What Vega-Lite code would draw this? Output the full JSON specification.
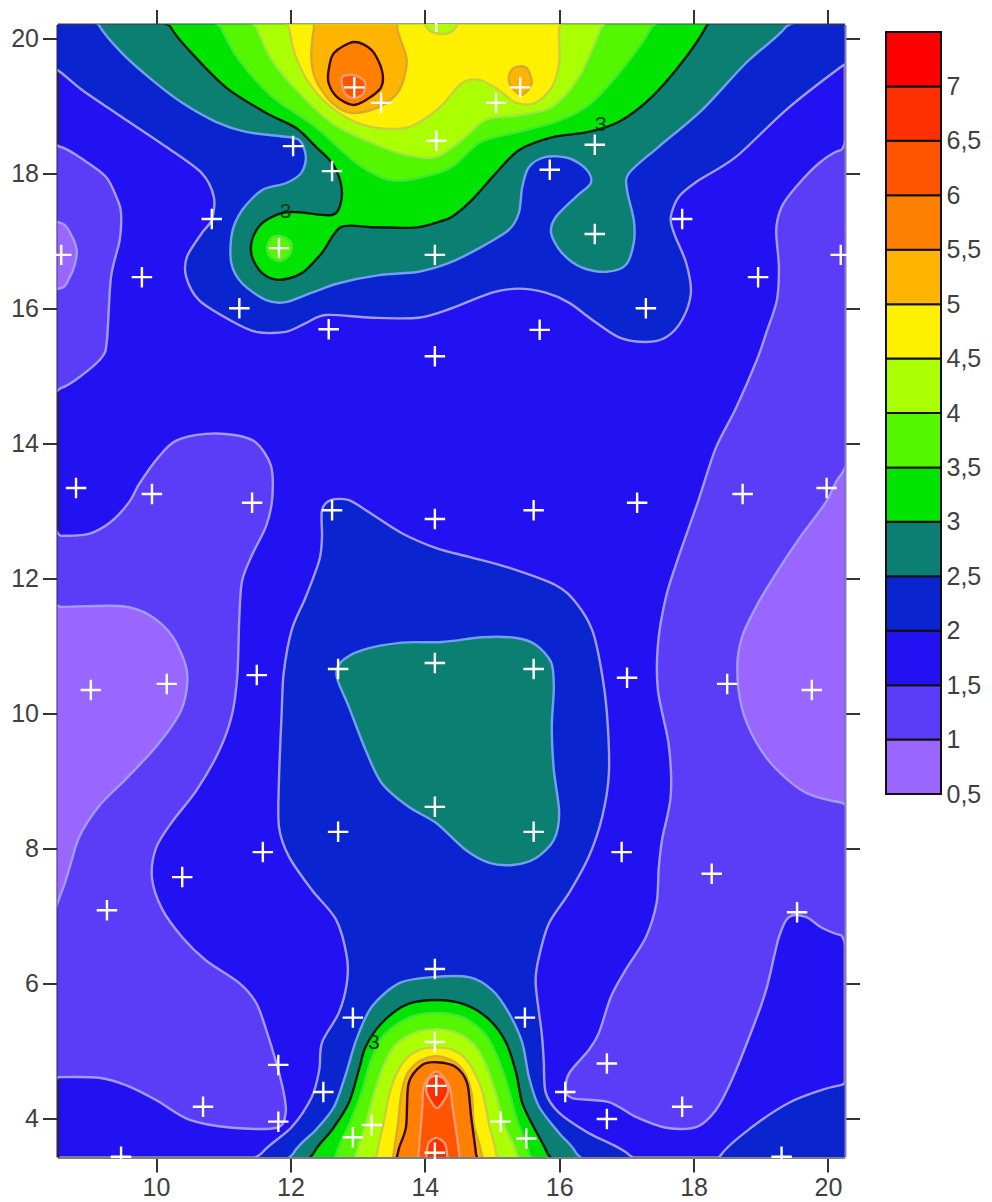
{"$schema":"https://vega.github.io/schema/vega-lite/v6.json","background":"white","padding":{"left":10.5,"top":6.5,"right":0,"bottom":0},"spacing":24.5,"config":{"axis":{"labelFont":"Liberation Sans","labelFontSize":25,"labelColor":"#404040","title":null,"grid":false}},
"datasets":{"shapes":[{"s":1,"band":"1","edge":"lo"},{"s":2,"band":"0.5","edge":"lo"},{"s":3,"band":"0.5","edge":"lo"},{"s":4,"band":"1","edge":"lo"},{"s":5,"band":"0.5","edge":"lo"},{"s":6,"band":"1","edge":"lo"},{"s":7,"band":"0.5","edge":"lo"},{"s":8,"band":"2","edge":"lo"},{"s":9,"band":"2.5","edge":"mid"},{"s":10,"band":"3","edge":"k"},{"s":11,"band":"3.5","edge":"g"},{"s":12,"band":"3.5","edge":"g"},{"s":13,"band":"4","edge":"lime"},{"s":14,"band":"4.5","edge":"ol"},{"s":15,"band":"4","edge":"ol"},{"s":16,"band":"5","edge":"am"},{"s":17,"band":"5","edge":"am"},{"s":18,"band":"5.5","edge":"dk"},{"s":19,"band":"6","edge":"pk"},{"s":20,"band":"2","edge":"lo"},{"s":21,"band":"2","edge":"lo"},{"s":22,"band":"2.5","edge":"mid"},{"s":23,"band":"2.5","edge":"mid"},{"s":24,"band":"3","edge":"k"},{"s":25,"band":"3.5","edge":"g"},{"s":26,"band":"4","edge":"lime"},{"s":27,"band":"4.5","edge":"ol"},{"s":28,"band":"5","edge":"am"},{"s":29,"band":"5.5","edge":"dk"},{"s":30,"band":"6","edge":"pk"},{"s":31,"band":"6.5","edge":"pk"},{"s":32,"band":"6.5","edge":"pk"}],
"contours":[
{"s":1,"x":8.11,"y":18.39},{"s":1,"x":8.57,"y":18.39},{"s":1,"x":8.93,"y":18.19},{"s":1,"x":9.26,"y":17.94},{"s":1,"x":9.43,"y":17.6},{"s":1,"x":9.48,"y":17.41},{"s":1,"x":9.46,"y":17.01},{"s":1,"x":9.33,"y":16.46},{"s":1,"x":9.27,"y":15.53},{"s":1,"x":9.2,"y":15.28},{"s":1,"x":8.9,"y":15.01},{"s":1,"x":8.59,"y":14.82},{"s":1,"x":8.11,"y":14.76},
{"s":2,"x":8.11,"y":17.26},{"s":2,"x":8.59,"y":17.26},{"s":2,"x":8.74,"y":17.08},{"s":2,"x":8.82,"y":16.86},{"s":2,"x":8.79,"y":16.64},{"s":2,"x":8.71,"y":16.45},{"s":2,"x":8.59,"y":16.3},{"s":2,"x":8.11,"y":16.3},
{"s":3,"x":20.68,"y":17.19},{"s":3,"x":20.21,"y":17.16},{"s":3,"x":20.04,"y":16.97},{"s":3,"x":19.98,"y":16.76},{"s":3,"x":20.01,"y":16.54},{"s":3,"x":20.07,"y":16.3},{"s":3,"x":20.21,"y":16},{"s":3,"x":20.68,"y":15.97},
{"s":4,"x":8.11,"y":12.63},{"s":4,"x":8.59,"y":12.63},{"s":4,"x":9,"y":12.66},{"s":4,"x":9.33,"y":12.84},{"s":4,"x":9.6,"y":13.13},{"s":4,"x":9.75,"y":13.4},{"s":4,"x":10.04,"y":13.8},{"s":4,"x":10.3,"y":14.04},{"s":4,"x":10.74,"y":14.14},{"s":4,"x":11.19,"y":14.12},{"s":4,"x":11.49,"y":14.01},{"s":4,"x":11.71,"y":13.67},{"s":4,"x":11.73,"y":13.19},{"s":4,"x":11.64,"y":12.78},{"s":4,"x":11.43,"y":12.35},{"s":4,"x":11.28,"y":11.96},{"s":4,"x":11.24,"y":11.43},{"s":4,"x":11.21,"y":10.56},{"s":4,"x":11.13,"y":9.98},{"s":4,"x":10.94,"y":9.45},{"s":4,"x":10.6,"y":8.86},{"s":4,"x":10.24,"y":8.4},{"s":4,"x":10,"y":8.01},{"s":4,"x":9.94,"y":7.57},{"s":4,"x":10.09,"y":7.11},{"s":4,"x":10.39,"y":6.69},{"s":4,"x":10.74,"y":6.35},{"s":4,"x":11.24,"y":6.01},{"s":4,"x":11.49,"y":5.72},{"s":4,"x":11.64,"y":5.32},{"s":4,"x":11.79,"y":4.83},{"s":4,"x":11.9,"y":4.39},{"s":4,"x":11.93,"y":4.09},{"s":4,"x":11.8,"y":3.87},{"s":4,"x":11.13,"y":3.87},{"s":4,"x":10.49,"y":3.99},{"s":4,"x":10,"y":4.28},{"s":4,"x":9.55,"y":4.5},{"s":4,"x":9.15,"y":4.61},{"s":4,"x":8.56,"y":4.62},{"s":4,"x":8.11,"y":4.62},
{"s":5,"x":8.11,"y":11.58},{"s":5,"x":8.59,"y":11.58},{"s":5,"x":9.49,"y":11.59},{"s":5,"x":9.9,"y":11.46},{"s":5,"x":10.24,"y":11.15},{"s":5,"x":10.45,"y":10.68},{"s":5,"x":10.45,"y":10.32},{"s":5,"x":10.34,"y":9.98},{"s":5,"x":10,"y":9.51},{"s":5,"x":9.55,"y":9.03},{"s":5,"x":9.15,"y":8.63},{"s":5,"x":8.85,"y":8.16},{"s":5,"x":8.59,"y":7.35},{"s":5,"x":8.11,"y":6.5},
{"s":6,"x":20.68,"y":18.34},{"s":6,"x":20.19,"y":18.34},{"s":6,"x":19.87,"y":18.15},{"s":6,"x":19.52,"y":17.79},{"s":6,"x":19.31,"y":17.5},{"s":6,"x":19.23,"y":17.16},{"s":6,"x":19.27,"y":16.61},{"s":6,"x":19.24,"y":16.12},{"s":6,"x":19.08,"y":15.63},{"s":6,"x":18.94,"y":15.23},{"s":6,"x":18.63,"y":14.52},{"s":6,"x":18.33,"y":13.93},{"s":6,"x":18.08,"y":13.18},{"s":6,"x":17.78,"y":12.33},{"s":6,"x":17.59,"y":11.73},{"s":6,"x":17.47,"y":11.03},{"s":6,"x":17.47,"y":10.34},{"s":6,"x":17.63,"y":9.54},{"s":6,"x":17.66,"y":8.78},{"s":6,"x":17.53,"y":8.13},{"s":6,"x":17.48,"y":7.69},{"s":6,"x":17.45,"y":7.2},{"s":6,"x":17.29,"y":6.69},{"s":6,"x":16.99,"y":6.21},{"s":6,"x":16.77,"y":5.81},{"s":6,"x":16.59,"y":5.27},{"s":6,"x":16.44,"y":5.02},{"s":6,"x":16.15,"y":4.68},{"s":6,"x":16.1,"y":4.46},{"s":6,"x":16.19,"y":4.31},{"s":6,"x":16.74,"y":4.25},{"s":6,"x":17.14,"y":4.03},{"s":6,"x":17.59,"y":3.87},{"s":6,"x":18.04,"y":3.88},{"s":6,"x":18.33,"y":4.13},{"s":6,"x":18.57,"y":4.58},{"s":6,"x":18.87,"y":5.32},{"s":6,"x":19.08,"y":5.91},{"s":6,"x":19.27,"y":6.69},{"s":6,"x":19.42,"y":6.99},{"s":6,"x":19.67,"y":6.99},{"s":6,"x":19.91,"y":6.83},{"s":6,"x":20.19,"y":6.72},{"s":6,"x":20.68,"y":6.65},
{"s":7,"x":20.68,"y":13.9},{"s":7,"x":20.19,"y":13.53},{"s":7,"x":19.97,"y":13.13},{"s":7,"x":19.57,"y":12.59},{"s":7,"x":19.23,"y":12.08},{"s":7,"x":18.93,"y":11.58},{"s":7,"x":18.72,"y":11.13},{"s":7,"x":18.65,"y":10.68},{"s":7,"x":18.72,"y":10.08},{"s":7,"x":18.93,"y":9.58},{"s":7,"x":19.23,"y":9.18},{"s":7,"x":19.67,"y":8.83},{"s":7,"x":20.21,"y":8.68},{"s":7,"x":20.68,"y":8.65},
{"s":8,"x":8.11,"y":19.82},{"s":8,"x":8.57,"y":19.5},{"s":8,"x":8.9,"y":19.23},{"s":8,"x":9.49,"y":18.83},{"s":8,"x":10.15,"y":18.39},{"s":8,"x":10.68,"y":18},{"s":8,"x":10.86,"y":17.65},{"s":8,"x":10.83,"y":17.31},{"s":8,"x":10.68,"y":17.11},{"s":8,"x":10.46,"y":16.76},{"s":8,"x":10.45,"y":16.46},{"s":8,"x":10.64,"y":16.12},{"s":8,"x":11.09,"y":15.83},{"s":8,"x":11.49,"y":15.65},{"s":8,"x":11.93,"y":15.65},{"s":8,"x":12.23,"y":15.78},{"s":8,"x":12.53,"y":15.9},{"s":8,"x":13.21,"y":15.86},{"s":8,"x":13.91,"y":15.86},{"s":8,"x":14.4,"y":16},{"s":8,"x":15,"y":16.23},{"s":8,"x":15.4,"y":16.29},{"s":8,"x":15.8,"y":16.23},{"s":8,"x":16.15,"y":16.08},{"s":8,"x":16.49,"y":15.83},{"s":8,"x":16.89,"y":15.57},{"s":8,"x":17.29,"y":15.5},{"s":8,"x":17.59,"y":15.57},{"s":8,"x":17.83,"y":15.83},{"s":8,"x":17.96,"y":16.23},{"s":8,"x":17.89,"y":16.67},{"s":8,"x":17.71,"y":17.11},{"s":8,"x":17.66,"y":17.35},{"s":8,"x":17.78,"y":17.65},{"s":8,"x":18.04,"y":17.87},{"s":8,"x":18.63,"y":18.24},{"s":8,"x":19.37,"y":18.93},{"s":8,"x":20.19,"y":19.57},{"s":8,"x":20.68,"y":19.9},{"s":8,"x":20.68,"y":20.64},{"s":8,"x":8.11,"y":20.64},
{"s":9,"x":9,"y":20.64},{"s":9,"x":9.15,"y":20.19},{"s":9,"x":9.49,"y":19.78},{"s":9,"x":9.94,"y":19.38},{"s":9,"x":10.39,"y":19.04},{"s":9,"x":10.89,"y":18.76},{"s":9,"x":11.34,"y":18.61},{"s":9,"x":11.83,"y":18.55},{"s":9,"x":12.13,"y":18.49},{"s":9,"x":12.23,"y":18.24},{"s":9,"x":12.16,"y":18},{"s":9,"x":11.93,"y":17.85},{"s":9,"x":11.58,"y":17.75},{"s":9,"x":11.28,"y":17.45},{"s":9,"x":11.13,"y":17.11},{"s":9,"x":11.12,"y":16.67},{"s":9,"x":11.28,"y":16.37},{"s":9,"x":11.64,"y":16.12},{"s":9,"x":11.93,"y":16.09},{"s":9,"x":12.32,"y":16.23},{"s":9,"x":12.72,"y":16.37},{"s":9,"x":13.32,"y":16.49},{"s":9,"x":13.91,"y":16.54},{"s":9,"x":14.36,"y":16.67},{"s":9,"x":14.81,"y":16.89},{"s":9,"x":15.25,"y":17.16},{"s":9,"x":15.4,"y":17.41},{"s":9,"x":15.45,"y":17.79},{"s":9,"x":15.55,"y":18.09},{"s":9,"x":15.8,"y":18.24},{"s":9,"x":16.15,"y":18.22},{"s":9,"x":16.41,"y":18.05},{"s":9,"x":16.47,"y":17.85},{"s":9,"x":16.25,"y":17.65},{"s":9,"x":15.95,"y":17.35},{"s":9,"x":15.88,"y":17.11},{"s":9,"x":16.04,"y":16.82},{"s":9,"x":16.34,"y":16.6},{"s":9,"x":16.7,"y":16.54},{"s":9,"x":16.99,"y":16.64},{"s":9,"x":17.11,"y":16.97},{"s":9,"x":17.11,"y":17.31},{"s":9,"x":17.01,"y":17.75},{"s":9,"x":17.04,"y":18},{"s":9,"x":17.48,"y":18.39},{"s":9,"x":18.12,"y":18.93},{"s":9,"x":18.78,"y":19.63},{"s":9,"x":19.37,"y":20.16},{"s":9,"x":19.57,"y":20.64},
{"s":10,"x":10.04,"y":20.64},{"s":10,"x":10.22,"y":20.16},{"s":10,"x":10.49,"y":19.82},{"s":10,"x":11.04,"y":19.27},{"s":10,"x":11.64,"y":18.89},{"s":10,"x":12.08,"y":18.67},{"s":10,"x":12.38,"y":18.39},{"s":10,"x":12.62,"y":18.15},{"s":10,"x":12.75,"y":17.85},{"s":10,"x":12.75,"y":17.56},{"s":10,"x":12.62,"y":17.38},{"s":10,"x":12.13,"y":17.42},{"s":10,"x":11.87,"y":17.41},{"s":10,"x":11.58,"y":17.26},{"s":10,"x":11.43,"y":17.01},{"s":10,"x":11.43,"y":16.76},{"s":10,"x":11.58,"y":16.52},{"s":10,"x":11.83,"y":16.42},{"s":10,"x":12.17,"y":16.52},{"s":10,"x":12.47,"y":16.82},{"s":10,"x":12.75,"y":17.2},{"s":10,"x":13.21,"y":17.2},{"s":10,"x":13.72,"y":17.19},{"s":10,"x":13.91,"y":17.2},{"s":10,"x":14.21,"y":17.28},{"s":10,"x":14.4,"y":17.35},{"s":10,"x":14.7,"y":17.6},{"s":10,"x":15.06,"y":18},{"s":10,"x":15.4,"y":18.34},{"s":10,"x":15.89,"y":18.53},{"s":10,"x":16.44,"y":18.61},{"s":10,"x":16.89,"y":18.76},{"s":10,"x":17.38,"y":19.13},{"s":10,"x":17.89,"y":19.72},{"s":10,"x":18.2,"y":20.19},{"s":10,"x":18.38,"y":20.64},
{"s":11,"x":11.65,"y":16.89},{"s":11,"x":11.71,"y":17.04},{"s":11,"x":11.83,"y":17.07},{"s":11,"x":11.98,"y":17.01},{"s":11,"x":12.02,"y":16.89},{"s":11,"x":11.96,"y":16.76},{"s":11,"x":11.83,"y":16.7},{"s":11,"x":11.7,"y":16.76},
{"s":12,"x":10.79,"y":20.64},{"s":12,"x":10.97,"y":20.15},{"s":12,"x":11.24,"y":19.67},{"s":12,"x":11.73,"y":19.13},{"s":12,"x":12.38,"y":18.68},{"s":12,"x":12.98,"y":18.15},{"s":12,"x":13.47,"y":17.9},{"s":12,"x":13.91,"y":17.93},{"s":12,"x":14.4,"y":18.09},{"s":12,"x":14.81,"y":18.45},{"s":12,"x":15.3,"y":18.59},{"s":12,"x":15.89,"y":18.74},{"s":12,"x":16.4,"y":18.98},{"s":12,"x":16.89,"y":19.48},{"s":12,"x":17.37,"y":20.15},{"s":12,"x":17.56,"y":20.64},
{"s":13,"x":11.31,"y":20.64},{"s":13,"x":11.5,"y":20.15},{"s":13,"x":11.73,"y":19.67},{"s":13,"x":12.13,"y":19.19},{"s":13,"x":12.62,"y":18.74},{"s":13,"x":13.21,"y":18.45},{"s":13,"x":13.72,"y":18.27},{"s":13,"x":14.17,"y":18.24},{"s":13,"x":14.55,"y":18.49},{"s":13,"x":14.91,"y":18.79},{"s":13,"x":15.4,"y":18.86},{"s":13,"x":15.89,"y":18.98},{"s":13,"x":16.29,"y":19.42},{"s":13,"x":16.62,"y":20.15},{"s":13,"x":16.82,"y":20.64},
{"s":14,"x":11.9,"y":20.64},{"s":14,"x":11.98,"y":20.15},{"s":14,"x":12.08,"y":19.72},{"s":14,"x":12.32,"y":19.27},{"s":14,"x":12.72,"y":18.89},{"s":14,"x":13.21,"y":18.68},{"s":14,"x":13.76,"y":18.68},{"s":14,"x":14.21,"y":18.96},{"s":14,"x":14.55,"y":19.33},{"s":14,"x":14.81,"y":19.38},{"s":14,"x":15.1,"y":19.23},{"s":14,"x":15.36,"y":19.04},{"s":14,"x":15.65,"y":19.04},{"s":14,"x":15.89,"y":19.27},{"s":14,"x":16,"y":19.63},{"s":14,"x":16,"y":20.15},{"s":14,"x":16.07,"y":20.64},
{"s":15,"x":13.99,"y":20.34},{"s":15,"x":14.06,"y":20.12},{"s":15,"x":14.26,"y":20.06},{"s":15,"x":14.43,"y":20.12},{"s":15,"x":14.51,"y":20.34},
{"s":16,"x":12.43,"y":20.64},{"s":16,"x":12.35,"y":20.15},{"s":16,"x":12.31,"y":19.72},{"s":16,"x":12.38,"y":19.38},{"s":16,"x":12.62,"y":19.04},{"s":16,"x":12.92,"y":18.89},{"s":16,"x":13.32,"y":18.98},{"s":16,"x":13.62,"y":19.23},{"s":16,"x":13.73,"y":19.67},{"s":16,"x":13.59,"y":20.15},{"s":16,"x":13.62,"y":20.64},
{"s":17,"x":15.25,"y":19.42},{"s":17,"x":15.33,"y":19.56},{"s":17,"x":15.51,"y":19.56},{"s":17,"x":15.59,"y":19.33},{"s":17,"x":15.45,"y":19.16},{"s":17,"x":15.3,"y":19.26},
{"s":18,"x":12.57,"y":19.53},{"s":18,"x":12.65,"y":19.78},{"s":18,"x":12.95,"y":19.94},{"s":18,"x":13.21,"y":19.82},{"s":18,"x":13.36,"y":19.53},{"s":18,"x":13.35,"y":19.27},{"s":18,"x":13.12,"y":19.08},{"s":18,"x":12.92,"y":19.01},{"s":18,"x":12.69,"y":19.13},{"s":18,"x":12.57,"y":19.33},
{"s":19,"x":12.77,"y":19.42},{"s":19,"x":12.95,"y":19.45},{"s":19,"x":13.11,"y":19.35},{"s":19,"x":13.08,"y":19.17},{"s":19,"x":12.93,"y":19.11},{"s":19,"x":12.8,"y":19.2},
{"s":20,"x":12.47,"y":13.01},{"s":20,"x":12.6,"y":13.16},{"s":20,"x":12.87,"y":13.16},{"s":20,"x":13.17,"y":12.98},{"s":20,"x":13.66,"y":12.67},{"s":20,"x":14.17,"y":12.45},{"s":20,"x":14.66,"y":12.32},{"s":20,"x":15.25,"y":12.16},{"s":20,"x":15.95,"y":11.9},{"s":20,"x":16.25,"y":11.64},{"s":20,"x":16.49,"y":11.24},{"s":20,"x":16.62,"y":10.69},{"s":20,"x":16.71,"y":10.01},{"s":20,"x":16.74,"y":9.12},{"s":20,"x":16.64,"y":8.47},{"s":20,"x":16.44,"y":7.88},{"s":20,"x":16.15,"y":7.35},{"s":20,"x":15.85,"y":6.9},{"s":20,"x":15.7,"y":6.4},{"s":20,"x":15.65,"y":6.01},{"s":20,"x":15.74,"y":5.27},{"s":20,"x":15.77,"y":4.87},{"s":20,"x":15.8,"y":4.39},{"s":20,"x":16,"y":4.09},{"s":20,"x":16.44,"y":3.79},{"s":20,"x":17.04,"y":3.47},{"s":20,"x":17.34,"y":2.95},{"s":20,"x":11.24,"y":2.95},{"s":20,"x":11.58,"y":3.5},{"s":20,"x":12.02,"y":3.88},{"s":20,"x":12.32,"y":4.33},{"s":20,"x":12.43,"y":4.73},{"s":20,"x":12.47,"y":5.13},{"s":20,"x":12.72,"y":5.57},{"s":20,"x":12.84,"y":6.01},{"s":20,"x":12.84,"y":6.4},{"s":20,"x":12.68,"y":6.95},{"s":20,"x":12.32,"y":7.39},{"s":20,"x":11.98,"y":7.88},{"s":20,"x":11.83,"y":8.32},{"s":20,"x":11.83,"y":9.02},{"s":20,"x":11.87,"y":10.01},{"s":20,"x":11.9,"y":10.6},{"s":20,"x":12.02,"y":11.24},{"s":20,"x":12.23,"y":11.73},{"s":20,"x":12.43,"y":12.27},{"s":20,"x":12.47,"y":12.61},
{"s":21,"x":18.23,"y":2.95},{"s":21,"x":18.41,"y":3.47},{"s":21,"x":18.87,"y":3.88},{"s":21,"x":19.42,"y":4.24},{"s":21,"x":19.91,"y":4.43},{"s":21,"x":20.19,"y":4.5},{"s":21,"x":20.68,"y":4.58},{"s":21,"x":20.68,"y":2.95},
{"s":22,"x":12.75,"y":10.76},{"s":22,"x":13.07,"y":10.94},{"s":22,"x":13.66,"y":11.05},{"s":22,"x":14.26,"y":11.06},{"s":22,"x":14.85,"y":11.13},{"s":22,"x":15.36,"y":11.12},{"s":22,"x":15.65,"y":11.02},{"s":22,"x":15.88,"y":10.76},{"s":22,"x":15.92,"y":10.39},{"s":22,"x":15.89,"y":9.8},{"s":22,"x":15.92,"y":9.17},{"s":22,"x":16,"y":8.53},{"s":22,"x":15.92,"y":8.13},{"s":22,"x":15.65,"y":7.86},{"s":22,"x":15.3,"y":7.76},{"s":22,"x":14.96,"y":7.79},{"s":22,"x":14.61,"y":7.98},{"s":22,"x":14.17,"y":8.38},{"s":22,"x":13.76,"y":8.62},{"s":22,"x":13.36,"y":8.97},{"s":22,"x":13.12,"y":9.46},{"s":22,"x":12.87,"y":10.1},{"s":22,"x":12.69,"y":10.54},
{"s":23,"x":11.9,"y":2.95},{"s":23,"x":12.05,"y":3.5},{"s":23,"x":12.38,"y":3.84},{"s":23,"x":12.65,"y":4.18},{"s":23,"x":12.83,"y":4.68},{"s":23,"x":12.98,"y":5.17},{"s":23,"x":13.21,"y":5.66},{"s":23,"x":13.62,"y":6.01},{"s":23,"x":14.11,"y":6.1},{"s":23,"x":14.66,"y":6.1},{"s":23,"x":15,"y":5.91},{"s":23,"x":15.25,"y":5.57},{"s":23,"x":15.45,"y":5.13},{"s":23,"x":15.55,"y":4.62},{"s":23,"x":15.7,"y":4.18},{"s":23,"x":16,"y":3.79},{"s":23,"x":16.25,"y":3.5},{"s":23,"x":16.44,"y":2.95},
{"s":24,"x":12.2,"y":2.95},{"s":24,"x":12.35,"y":3.5},{"s":24,"x":12.62,"y":3.84},{"s":24,"x":12.87,"y":4.24},{"s":24,"x":13.02,"y":4.73},{"s":24,"x":13.12,"y":5.07},{"s":24,"x":13.36,"y":5.42},{"s":24,"x":13.72,"y":5.69},{"s":24,"x":14.17,"y":5.76},{"s":24,"x":14.61,"y":5.69},{"s":24,"x":14.96,"y":5.47},{"s":24,"x":15.21,"y":5.13},{"s":24,"x":15.36,"y":4.68},{"s":24,"x":15.45,"y":4.24},{"s":24,"x":15.62,"y":3.88},{"s":24,"x":15.82,"y":3.5},{"s":24,"x":16,"y":2.95},
{"s":25,"x":12.65,"y":2.95},{"s":25,"x":12.69,"y":3.5},{"s":25,"x":12.87,"y":3.91},{"s":25,"x":13.05,"y":4.36},{"s":25,"x":13.2,"y":4.87},{"s":25,"x":13.39,"y":5.24},{"s":25,"x":13.76,"y":5.5},{"s":25,"x":14.17,"y":5.57},{"s":25,"x":14.58,"y":5.5},{"s":25,"x":14.91,"y":5.24},{"s":25,"x":15.1,"y":4.87},{"s":25,"x":15.25,"y":4.43},{"s":25,"x":15.37,"y":3.99},{"s":25,"x":15.55,"y":3.5},{"s":25,"x":15.62,"y":2.95},
{"s":26,"x":12.95,"y":2.95},{"s":26,"x":12.99,"y":3.5},{"s":26,"x":13.12,"y":3.91},{"s":26,"x":13.24,"y":4.36},{"s":26,"x":13.39,"y":4.8},{"s":26,"x":13.57,"y":5.1},{"s":26,"x":13.84,"y":5.27},{"s":26,"x":14.17,"y":5.33},{"s":26,"x":14.48,"y":5.27},{"s":26,"x":14.73,"y":5.1},{"s":26,"x":14.91,"y":4.8},{"s":26,"x":15.06,"y":4.36},{"s":26,"x":15.18,"y":3.91},{"s":26,"x":15.36,"y":3.5},{"s":26,"x":15.4,"y":2.95},
{"s":27,"x":13.24,"y":2.95},{"s":27,"x":13.29,"y":3.5},{"s":27,"x":13.38,"y":3.91},{"s":27,"x":13.47,"y":4.36},{"s":27,"x":13.57,"y":4.65},{"s":27,"x":13.73,"y":4.9},{"s":27,"x":13.94,"y":5.03},{"s":27,"x":14.17,"y":5.06},{"s":27,"x":14.39,"y":5.03},{"s":27,"x":14.6,"y":4.9},{"s":27,"x":14.76,"y":4.65},{"s":27,"x":14.87,"y":4.36},{"s":27,"x":14.96,"y":3.91},{"s":27,"x":15.06,"y":3.5},{"s":27,"x":15.1,"y":2.95},
{"s":28,"x":13.5,"y":2.95},{"s":28,"x":13.54,"y":3.5},{"s":28,"x":13.6,"y":3.91},{"s":28,"x":13.65,"y":4.36},{"s":28,"x":13.73,"y":4.65},{"s":28,"x":13.87,"y":4.82},{"s":28,"x":14.02,"y":4.9},{"s":28,"x":14.17,"y":4.93},{"s":28,"x":14.32,"y":4.9},{"s":28,"x":14.48,"y":4.82},{"s":28,"x":14.61,"y":4.65},{"s":28,"x":14.7,"y":4.36},{"s":28,"x":14.73,"y":3.91},{"s":28,"x":14.84,"y":3.5},{"s":28,"x":14.88,"y":2.95},
{"s":29,"x":13.57,"y":2.95},{"s":29,"x":13.6,"y":3.5},{"s":29,"x":13.72,"y":3.88},{"s":29,"x":13.76,"y":4.53},{"s":29,"x":13.96,"y":4.8},{"s":29,"x":14.18,"y":4.84},{"s":29,"x":14.46,"y":4.77},{"s":29,"x":14.63,"y":4.53},{"s":29,"x":14.69,"y":4.03},{"s":29,"x":14.76,"y":3.5},{"s":29,"x":14.81,"y":2.95},
{"s":30,"x":13.88,"y":2.95},{"s":30,"x":13.91,"y":3.5},{"s":30,"x":13.96,"y":4.13},{"s":30,"x":13.99,"y":4.5},{"s":30,"x":14.17,"y":4.7},{"s":30,"x":14.36,"y":4.5},{"s":30,"x":14.42,"y":4.13},{"s":30,"x":14.51,"y":3.5},{"s":30,"x":14.54,"y":2.95},
{"s":31,"x":14.02,"y":4.43},{"s":31,"x":14.06,"y":4.59},{"s":31,"x":14.17,"y":4.64},{"s":31,"x":14.29,"y":4.59},{"s":31,"x":14.35,"y":4.43},{"s":31,"x":14.29,"y":4.28},{"s":31,"x":14.18,"y":4.16},{"s":31,"x":14.08,"y":4.28},
{"s":32,"x":14,"y":2.95},{"s":32,"x":14.03,"y":3.5},{"s":32,"x":14.06,"y":3.65},{"s":32,"x":14.17,"y":3.72},{"s":32,"x":14.29,"y":3.65},{"s":32,"x":14.33,"y":3.5},{"s":32,"x":14.36,"y":2.95}
],
"samples":[{"x":14.17,"y":20.24},{"x":12.95,"y":19.27},{"x":13.35,"y":19.04},{"x":15.06,"y":19.04},{"x":15.42,"y":19.27},{"x":14.17,"y":18.48},{"x":12.04,"y":18.4},{"x":16.53,"y":18.42},{"x":12.62,"y":18.03},{"x":15.86,"y":18.05},{"x":10.83,"y":17.32},{"x":17.83,"y":17.32},{"x":11.83,"y":16.89},{"x":16.53,"y":17.1},{"x":8.59,"y":16.79},{"x":14.15,"y":16.79},{"x":20.19,"y":16.79},{"x":9.79,"y":16.46},{"x":18.96,"y":16.46},{"x":11.24,"y":16},{"x":17.29,"y":16},{"x":12.57,"y":15.69},{"x":15.71,"y":15.68},{"x":14.15,"y":15.29},{"x":8.81,"y":13.34},{"x":9.94,"y":13.25},{"x":11.43,"y":13.12},{"x":12.62,"y":13.01},{"x":14.15,"y":12.88},{"x":15.62,"y":13.01},{"x":17.16,"y":13.12},{"x":18.73,"y":13.25},{"x":19.98,"y":13.34},{"x":9.03,"y":10.35},{"x":10.16,"y":10.44},{"x":11.5,"y":10.57},{"x":12.71,"y":10.66},{"x":14.15,"y":10.75},{"x":15.62,"y":10.66},{"x":17.01,"y":10.53},{"x":18.5,"y":10.44},{"x":19.76,"y":10.35},{"x":9.27,"y":7.09},{"x":10.39,"y":7.58},{"x":11.59,"y":7.95},{"x":12.71,"y":8.25},{"x":14.15,"y":8.62},{"x":15.62,"y":8.25},{"x":16.93,"y":7.95},{"x":18.27,"y":7.63},{"x":19.54,"y":7.06},{"x":14.15,"y":6.22},{"x":12.93,"y":5.5},{"x":15.49,"y":5.5},{"x":14.15,"y":5.14},{"x":11.82,"y":4.8},{"x":16.71,"y":4.82},{"x":12.49,"y":4.4},{"x":16.09,"y":4.4},{"x":14.17,"y":4.49},{"x":10.7,"y":4.18},{"x":17.83,"y":4.18},{"x":11.82,"y":3.96},{"x":16.71,"y":4},{"x":13.21,"y":3.91},{"x":15.13,"y":3.96},{"x":12.93,"y":3.73},{"x":15.51,"y":3.71},{"x":14.15,"y":3.5},{"x":9.48,"y":3.44},{"x":19.31,"y":3.44}],
"labels":[{"x":11.93,"y":17.42,"t":"3"},{"x":16.62,"y":18.71,"t":"3"},{"x":13.24,"y":5.13,"t":"3"}],
"scaleBar":[{"band":"0.5","lo":0.5,"hi":1},{"band":"1","lo":1,"hi":1.5},{"band":"1.5","lo":1.5,"hi":2},{"band":"2","lo":2,"hi":2.5},{"band":"2.5","lo":2.5,"hi":3},{"band":"3","lo":3,"hi":3.5},{"band":"3.5","lo":3.5,"hi":4},{"band":"4","lo":4,"hi":4.5},{"band":"4.5","lo":4.5,"hi":5},{"band":"5","lo":5,"hi":5.5},{"band":"5.5","lo":5.5,"hi":6},{"band":"6","lo":6,"hi":6.5},{"band":"6.5","lo":6.5,"hi":7},{"band":"7","lo":7,"hi":7.5}]},
"hconcat":[{"width":787,"height":1132.5,"view":{"fill":"#2211F0","stroke":null},"resolve":{"axis":{"x":"independent","y":"independent"}},"layer":[
{"data":{"name":"contours"},"transform":[{"lookup":"s","from":{"data":{"name":"shapes"},"key":"s","fields":["band","edge"]}}],"mark":{"type":"line","order":false,"interpolate":"cardinal-closed","tension":0.1,"clip":true,"strokeWidth":2.4},"encoding":{"x":{"field":"x","type":"quantitative","sort":null,"scale":{"domain":[8.534,20.246],"nice":false,"zero":false},"axis":{"orient":"bottom","values":[10,12,14,16,18,20],"tickSize":15,"tickWidth":2,"tickColor":"#333333","labelPadding":3,"domainColor":"#7d7d88","domainWidth":3}},"y":{"field":"y","type":"quantitative","sort":null,"scale":{"domain":[3.437,20.2],"nice":false,"zero":false},"axis":{"orient":"left","values":[4,6,8,10,12,14,16,18,20],"tickSize":15,"tickWidth":2,"tickColor":"#333333","labelPadding":4,"domainColor":"#2a2060","domainWidth":3}},"detail":{"field":"s","type":"nominal"},"fill":{"field":"band","type":"nominal","legend":null,"scale":{"domain":["0.5","1","1.5","2","2.5","3","3.5","4","4.5","5","5.5","6","6.5","7"],"range":["#9966FF","#5C3DF7","#2211F0","#0A24D0","#0B8072","#00E400","#55F700","#AAFF00","#FFF000","#FFB400","#FF7F00","#FF5500","#FF3000","#FF0000"]}},"stroke":{"field":"edge","type":"nominal","legend":null,"scale":{"domain":["lo","mid","g","lime","ol","am","k","dk","pk"],"range":["#A29CF8","#73A0EE","#40E830","#9CE840","#C8D040","#D8A830","#0A1A0A","#3A0A00","#F29A70"]}}}},
{"data":{"name":"samples"},"mark":{"type":"point","shape":"M-1,0L1,0M0,-1L0,1","size":420,"stroke":"white","strokeWidth":2.4,"filled":false,"opacity":1},"encoding":{"x":{"field":"x","type":"quantitative","scale":{"domain":[8.534,20.246],"nice":false,"zero":false},"axis":{"orient":"top","values":[10,12,14,16,18,20],"labels":false,"tickSize":15,"tickWidth":2,"tickColor":"#333333","domainColor":"#4a3a10","domainWidth":3}},"y":{"field":"y","type":"quantitative","scale":{"domain":[3.437,20.2],"nice":false,"zero":false},"axis":{"orient":"right","values":[4,6,8,10,12,14,16,18,20],"labels":false,"tickSize":15,"tickWidth":2,"tickColor":"#333333","domainColor":"#8a80b0","domainWidth":3}}}},
{"data":{"name":"labels"},"mark":{"type":"text","font":"Liberation Sans","fontSize":21,"color":"#0A3A14"},"encoding":{"x":{"field":"x","type":"quantitative","scale":{"domain":[8.534,20.246],"nice":false,"zero":false},"axis":null},"y":{"field":"y","type":"quantitative","scale":{"domain":[3.437,20.2],"nice":false,"zero":false},"axis":null},"text":{"field":"t"}}}
]},
{"width":55,"height":769.5,"view":{"stroke":null},"data":{"name":"scaleBar"},"mark":{"type":"rect","stroke":"#101010","strokeWidth":2},"encoding":{"y":{"field":"lo","type":"quantitative","scale":{"domain":[0.5,7.569],"nice":false,"zero":false},"axis":{"orient":"right","values":[0.5,1,1.5,2,2.5,3,3.5,4,4.5,5,5.5,6,6.5,7],"labelExpr":"replace(format(datum.value,''),'.',',')","ticks":false,"domain":false,"labelPadding":5}},"y2":{"field":"hi"},"fill":{"field":"band","type":"nominal","legend":null,"scale":{"domain":["0.5","1","1.5","2","2.5","3","3.5","4","4.5","5","5.5","6","6.5","7"],"range":["#9966FF","#5C3DF7","#2211F0","#0A24D0","#0B8072","#00E400","#55F700","#AAFF00","#FFF000","#FFB400","#FF7F00","#FF5500","#FF3000","#FF0000"]}}}}
]}
